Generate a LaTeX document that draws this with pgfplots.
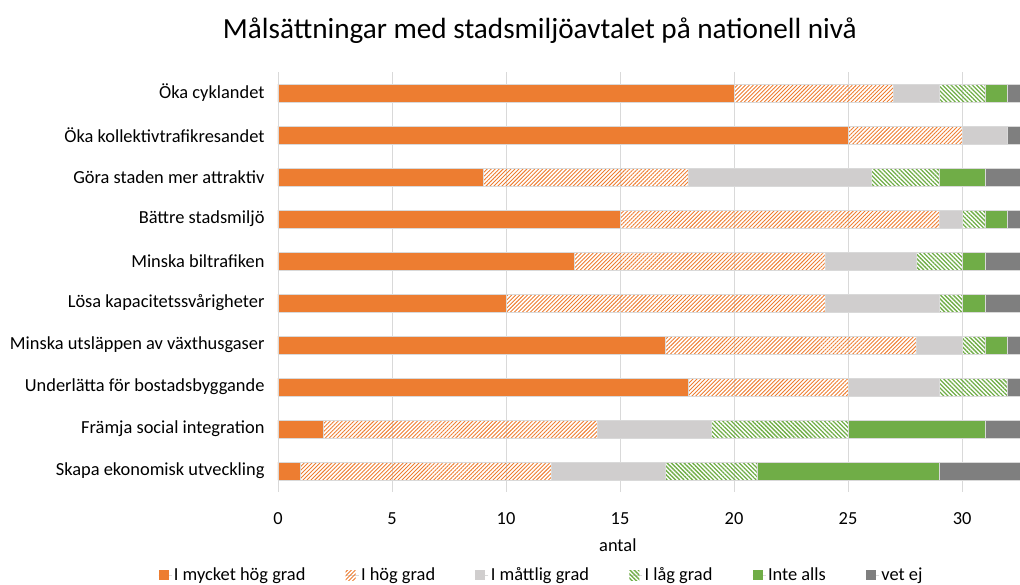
\documentclass[border=0pt]{standalone}
\usepackage{pgfplots}
\pgfplotsset{compat=1.18}
\usepackage{pgfplotstable}
\usepackage{fontspec}
\setmainfont{Carlito}
\usetikzlibrary{patterns.meta}
\definecolor{cOrange}{RGB}{237,125,49}
\definecolor{cLight}{RGB}{208,206,206}
\definecolor{cGreen}{RGB}{112,173,71}
\definecolor{cDark}{RGB}{127,127,127}
\definecolor{cGrid}{RGB}{217,217,217}
\definecolor{cText}{RGB}{0,0,0}
\pgfplotstableread{
y a b c d e f
0 20 7 2 2 1 1
1 25 5 2 0 0 1
2 9 9 8 3 2 2
3 15 14 1 1 1 1
4 13 11 4 2 1 2
5 10 14 5 1 1 2
6 17 11 2 1 1 1
7 18 7 4 3 0 1
8 2 12 5 6 6 2
9 1 11 5 4 8 4
}\data
\begin{document}
\begin{tikzpicture}
\useasboundingbox (-278bp,-93bp) rectangle (742bp,492bp);
\begin{axis}[
  at={(0,0)}, anchor=south west,
  scale only axis,
  width=742bp, height=420bp,
  xbar stacked,
  bar width=18bp,
  xmin=0, xmax=32.54,
  ymin=-0.5, ymax=9.5,
  y dir=reverse,
  ytick={0,...,9},
  yticklabels={Öka cyklandet,Öka kollektivtrafikresandet,Göra staden mer attraktiv,Bättre stadsmiljö,Minska biltrafiken,Lösa kapacitetssvårigheter,Minska utsläppen av växthusgaser,Underlätta för bostadsbyggande,Främja social integration,Skapa ekonomisk utveckling},
  xtick={0,5,10,15,20,25,30},
  axis line style={draw=none},
  major tick length=0pt,
  xmajorgrids,
  grid style={cGrid, line width=0.75bp},
  /pgf/number format/assume math mode=true,
  ticklabel style={font=\fontsize{18.4bp}{22bp}\selectfont, text=cText},
  xticklabel style={yshift=-17bp},
  yticklabel style={xshift=-10bp},
  title={Målsättningar med stadsmiljöavtalet på nationell nivå},
  title style={at={(axis description cs:0.353,1.085)}, anchor=center, font=\fontsize{29.2bp}{34bp}\selectfont},
  xlabel={antal},
  xlabel style={at={(axis description cs:0.458,-0.126)}, anchor=center, font=\fontsize{18.4bp}{22bp}\selectfont},
  legend columns=6,
  legend style={at={(axis description cs:0.355,-0.198)}, anchor=center, draw=none, fill=none,
    font=\fontsize{18.4bp}{22bp}\selectfont, /tikz/every even column/.append style={column sep=38bp}},
  legend image code/.code={\path (0bp,0bp) -- (13bp,0bp); \draw[#1,draw=none] (0bp,-5bp) rectangle (10bp,5bp);},
  every axis plot/.append style={draw=cGrid, line width=0.6bp},
]
\addplot[fill=cOrange] table[x=a,y=y]{\data};
\addplot[pattern={Lines[angle=45,distance=2.8bp,line width=0.9bp]}, pattern color=cOrange] table[x=b,y=y]{\data};
\addplot[fill=cLight] table[x=c,y=y]{\data};
\addplot[pattern={Lines[angle=-45,distance=3bp,line width=1.3bp]}, pattern color=cGreen] table[x=d,y=y]{\data};
\addplot[fill=cGreen] table[x=e,y=y]{\data};
\addplot[fill=cDark] table[x=f,y=y]{\data};
\legend{I mycket hög grad,I hög grad,I måttlig grad,I låg grad,Inte alls,vet ej}
\end{axis}
\end{tikzpicture}
\end{document}
